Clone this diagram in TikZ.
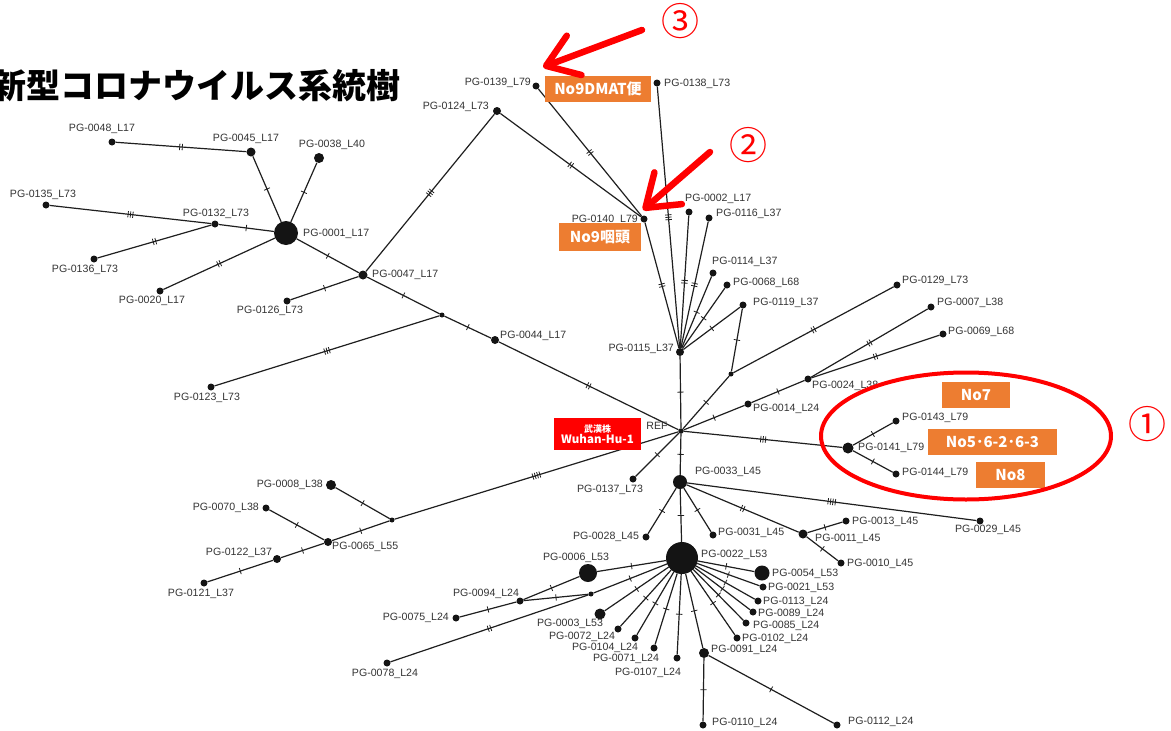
\documentclass[tikz,border=0pt]{standalone}
\usepackage{fontspec}
\setmainfont{Liberation Sans}
\newfontfamily\cjk{Noto Sans CJK JP}
\usetikzlibrary{decorations.markings,arrows.meta,shapes.geometric}
\definecolor{orng}{HTML}{ED7D31}
\definecolor{redbox}{HTML}{FF0000}
\tikzset{
  dot/.style={circle, fill=black!92, inner sep=0pt, minimum size=7pt},
  lbl/.style={inner sep=0pt, text=black!80, text height=7.8pt, text depth=0pt, font=\fontsize{10.6}{12}\selectfont},
  lnk/.style={draw=black!88, line width=1.2pt},
  tk/.style={line width=0.8pt, black!88},
  m1/.style={postaction={decorate,decoration={markings,mark=at position 0.5 with {\draw[tk] (0pt,-3.2pt)--(0pt,3.2pt);}}}},
  m2/.style={postaction={decorate,decoration={markings,mark=at position 0.5 with {\draw[tk] (-1.3pt,-3.2pt)--(-1.3pt,3.2pt) (1.3pt,-3.2pt)--(1.3pt,3.2pt);}}}},
  m3/.style={postaction={decorate,decoration={markings,mark=at position 0.5 with {\draw[tk] (-2.4pt,-3.2pt)--(-2.4pt,3.2pt) (0pt,-3.2pt)--(0pt,3.2pt) (2.4pt,-3.2pt)--(2.4pt,3.2pt);}}}},
  m4/.style={postaction={decorate,decoration={markings,mark=at position 0.5 with {\draw[tk] (-3.6pt,-3.2pt)--(-3.6pt,3.2pt) (-1.2pt,-3.2pt)--(-1.2pt,3.2pt) (1.2pt,-3.2pt)--(1.2pt,3.2pt) (3.6pt,-3.2pt)--(3.6pt,3.2pt);}}}},
  obox/.style={fill=orng, text=white, inner sep=0pt, font=\cjk\bfseries\fontsize{15}{15}\selectfont},
  rarrow/.style={draw=red, line width=6.5pt, line cap=round, -{Straight Barb[length=30pt,width=42pt,round]}},
  cnum/.style={text=red, inner sep=0pt, font=\cjk\fontsize{38}{38}\selectfont},
}
\begin{document}
\begin{tikzpicture}[x=1pt,y=-1pt]
\useasboundingbox (0,0) rectangle (1171,731);
% title
\node[anchor=east, inner sep=0pt, font=\cjk\bfseries\fontsize{34}{34}\selectfont] (title) at (401,86) {新型コロナウイルス系統樹};
% dots
\node[dot] (n0048) at (112,142) {};
\node[dot,minimum size=9pt] (n0045) at (251,152) {};
\node[dot,minimum size=10pt] (n0038) at (319,158) {};
\node[dot] (n0135) at (46,205) {};
\node[dot] (n0132) at (215,224) {};
\node[dot,minimum size=24pt] (n0001) at (286,233) {};
\node[dot] (n0136) at (94,259) {};
\node[dot] (n0020) at (160,291) {};
\node[dot] (n0126) at (287,301) {};
\node[dot,minimum size=9pt] (n0047) at (363,275) {};
\node[dot] (n0123) at (211,387) {};
\node[dot,minimum size=5pt] (iA) at (442,315) {};
\node[dot,minimum size=8pt] (n0044) at (495,340) {};
\node[dot,minimum size=8pt] (n0124) at (497,111) {};
\node[dot] (n0139) at (536,86) {};
\node[dot] (n0138) at (657,83) {};
\node[dot] (n0140) at (644,219) {};
\node[dot] (n0002) at (689,212) {};
\node[dot] (n0116) at (709,218) {};
\node[dot,minimum size=8pt] (n0115) at (680,352) {};
\node[dot] (n0114) at (713,273) {};
\node[dot] (n0068) at (727,285) {};
\node[dot] (n0119) at (743,305) {};
\node[dot,minimum size=5pt] (iB) at (731,374) {};
\node[dot] (n0129) at (897,285) {};
\node[dot] (n0007) at (931,307) {};
\node[dot] (n0069) at (943,334) {};
\node[dot] (n0024) at (808,379) {};
\node[dot] (n0014) at (748,404) {};
\node[dot,minimum size=5.5pt] (ref) at (681,431) {};
\node[dot,minimum size=11pt] (n0141) at (848,448) {};
\node[dot] (n0143) at (896,421) {};
\node[dot] (n0144) at (896,474) {};
\node[dot] (n0137) at (633,479) {};
\node[dot,minimum size=14pt] (n0033) at (680,482) {};
\node[dot,minimum size=5pt] (iC) at (392,520) {};
\node[dot,minimum size=10pt] (n0008) at (331,485) {};
\node[dot] (n0070) at (266,508) {};
\node[dot,minimum size=8pt] (n0065) at (328,542) {};
\node[dot,minimum size=8pt] (n0122) at (277,559) {};
\node[dot] (n0121) at (204,583) {};
\node[dot] (n0028) at (646,537) {};
\node[dot] (n0031) at (713,535) {};
\node[dot,minimum size=9pt] (n0011) at (803,534) {};
\node[dot] (n0013) at (846,521) {};
\node[dot] (n0010) at (841,563) {};
\node[dot] (n0029) at (980,521) {};
\node[dot,minimum size=32pt] (n0022) at (682,558) {};
\node[dot,minimum size=18pt] (n0006) at (588,573) {};
\node[dot,minimum size=15pt] (n0054) at (762,573) {};
\node[dot] (n0021) at (763,587) {};
\node[dot] (n0113) at (758,601) {};
\node[dot] (n0089) at (753,612) {};
\node[dot] (n0085) at (746,623) {};
\node[dot] (n0102) at (737,638) {};
\node[dot,minimum size=10pt] (n0091) at (704,653) {};
\node[dot] (n0107) at (677,658) {};
\node[dot] (n0071) at (654,648) {};
\node[dot] (n0104) at (635,638) {};
\node[dot] (n0072) at (618,629) {};
\node[dot,minimum size=11pt] (n0003) at (600,614) {};
\node[dot,minimum size=5pt] (iD) at (591,594) {};
\node[dot] (n0094) at (520,601) {};
\node[dot] (n0075) at (456,618) {};
\node[dot] (n0078) at (387,663) {};
\node[dot] (n0110) at (703,725) {};
\node[dot] (n0112) at (837,725) {};
% edges
\draw[lnk,m2] (n0048) -- (n0045);
\draw[lnk,m1] (n0045) -- (n0001);
\draw[lnk,m1] (n0038) -- (n0001);
\draw[lnk,m3] (n0135) -- (n0132);
\draw[lnk,m1] (n0132) -- (n0001);
\draw[lnk,m2] (n0132) -- (n0136);
\draw[lnk,m2] (n0001) -- (n0020);
\draw[lnk,m1] (n0001) -- (n0047);
\draw[lnk,m1] (n0047) -- (n0126);
\draw[lnk,m3] (n0047) -- (n0124);
\draw[lnk,m1] (n0047) -- (iA);
\draw[lnk,m3] (iA) -- (n0123);
\draw[lnk,m1] (iA) -- (n0044);
\draw[lnk,m2] (n0044) -- (ref);
\draw[lnk,m2] (n0124) -- (n0140);
\draw[lnk,m2] (n0139) -- (n0140);
\draw[lnk,m2] (n0140) -- (n0115);
\draw[lnk,m3] (n0138) -- (n0115);
\draw[lnk,m2] (n0002) -- (n0115);
\draw[lnk,m2] (n0116) -- (n0115);
\draw[lnk,m1] (n0114) -- (n0115);
\draw[lnk,m1] (n0068) -- (n0115);
\draw[lnk,m1] (n0119) -- (n0115);
\draw[lnk,m1] (n0115) -- (ref);
\draw[lnk,m1] (n0119) -- (iB);
\draw[lnk,m1] (iB) -- (ref);
\draw[lnk,m2] (iB) -- (n0129);
\draw[lnk,m1] (ref) -- (n0014);
\draw[lnk,m1] (n0014) -- (n0024);
\draw[lnk,m2] (n0024) -- (n0007);
\draw[lnk,m2] (n0024) -- (n0069);
\draw[lnk,m3] (ref) -- (n0141);
\draw[lnk,m1] (n0141) -- (n0143);
\draw[lnk,m1] (n0141) -- (n0144);
\draw[lnk,m1] (ref) -- (n0137);
\draw[lnk,m1] (ref) -- (n0033);
\draw[lnk,m4] (ref) -- (iC);
\draw[lnk,m1] (iC) -- (n0008);
\draw[lnk,m1] (iC) -- (n0065);
\draw[lnk,m1] (n0065) -- (n0070);
\draw[lnk,m1] (n0065) -- (n0122);
\draw[lnk,m1] (n0122) -- (n0121);
\draw[lnk,m1] (n0033) -- (n0028);
\draw[lnk,m1] (n0033) -- (n0031);
\draw[lnk,m2] (n0033) -- (n0011);
\draw[lnk,m4] (n0033) -- (n0029);
\draw[lnk,m1] (n0011) -- (n0013);
\draw[lnk,m1] (n0011) -- (n0010);
\draw[lnk,m1] (n0033) -- (n0022);
\draw[lnk,m1] (n0022) -- (n0006);
\draw[lnk,m1] (n0006) -- (n0094);
\draw[lnk,m1] (n0094) -- (n0075);
\draw[lnk,m1] (n0094) -- (iD);
\draw[lnk,m1] (iD) -- (n0022);
\draw[lnk,m2] (iD) -- (n0078);
\foreach \t in {0003,0072,0104,0071,0107,0091,0102,0085,0089,0113,0021,0054}
  \draw[lnk,m1] (n0022) -- (n\t);
\draw[lnk,m1] (n0091) -- (n0110);
\draw[lnk,m1] (n0091) -- (n0112);
% labels
\node[lbl] (l0048) at (102,128) {PG-0048\_L17};
\node[lbl] (l0045) at (246,138) {PG-0045\_L17};
\node[lbl] (l0038) at (332,144) {PG-0038\_L40};
\node[lbl] (l0135) at (43,194) {PG-0135\_L73};
\node[lbl] (l0132) at (216,213) {PG-0132\_L73};
\node[lbl,anchor=west] (l0001) at (303,233) {PG-0001\_L17};
\node[lbl] (l0136) at (85,269) {PG-0136\_L73};
\node[lbl] (l0020) at (152,300) {PG-0020\_L17};
\node[lbl] (l0126) at (270,310) {PG-0126\_L73};
\node[lbl,anchor=west] (l0047) at (372,274) {PG-0047\_L17};
\node[lbl] (l0123) at (207,397) {PG-0123\_L73};
\node[lbl,anchor=west] (l0044) at (500,335) {PG-0044\_L17};
\node[lbl,anchor=east] (l0124) at (489,106) {PG-0124\_L73};
\node[lbl,anchor=east] (l0139) at (531,82) {PG-0139\_L79};
\node[lbl,anchor=west] (l0138) at (664,83) {PG-0138\_L73};
\node[lbl,anchor=east] (l0140) at (638,219) {PG-0140\_L79};
\node[lbl,anchor=west] (l0002) at (685,198) {PG-0002\_L17};
\node[lbl,anchor=west] (l0116) at (716,213) {PG-0116\_L37};
\node[lbl,anchor=east] (l0115) at (674,348) {PG-0115\_L37};
\node[lbl,anchor=west] (l0114) at (712,261) {PG-0114\_L37};
\node[lbl,anchor=west] (l0068) at (733,282) {PG-0068\_L68};
\node[lbl,anchor=west] (l0119) at (753,302) {PG-0119\_L37};
\node[lbl,anchor=west] (l0129) at (902,280) {PG-0129\_L73};
\node[lbl,anchor=west] (l0007) at (937,302) {PG-0007\_L38};
\node[lbl,anchor=west] (l0069) at (948,331) {PG-0069\_L68};
\node[lbl,anchor=west] (l0024) at (812,385) {PG-0024\_L38};
\node[lbl,anchor=west] (l0014) at (753,408) {PG-0014\_L24};
\node[lbl] (lref) at (657,426) {REF};
\node[lbl,anchor=west] (l0141) at (858,447) {PG-0141\_L79};
\node[lbl,anchor=west] (l0143) at (902,417) {PG-0143\_L79};
\node[lbl,anchor=west] (l0144) at (902,472) {PG-0144\_L79};
\node[lbl] (l0137) at (610,489) {PG-0137\_L73};
\node[lbl] (l0033) at (728,471) {PG-0033\_L45};
\node[lbl,anchor=east] (l0008) at (323,484) {PG-0008\_L38};
\node[lbl,anchor=east] (l0070) at (259,507) {PG-0070\_L38};
\node[lbl,anchor=west] (l0065) at (332,546) {PG-0065\_L55};
\node[lbl] (l0122) at (239,552) {PG-0122\_L37};
\node[lbl] (l0121) at (201,593) {PG-0121\_L37};
\node[lbl] (l0028) at (606,536) {PG-0028\_L45};
\node[lbl,anchor=west] (l0031) at (718,532) {PG-0031\_L45};
\node[lbl,anchor=west] (l0011) at (815,538) {PG-0011\_L45};
\node[lbl,anchor=west] (l0013) at (852,521) {PG-0013\_L45};
\node[lbl,anchor=west] (l0010) at (847,563) {PG-0010\_L45};
\node[lbl] (l0029) at (988,529) {PG-0029\_L45};
\node[lbl,anchor=west] (l0022) at (701,554) {PG-0022\_L53};
\node[lbl] (l0006) at (576,557) {PG-0006\_L53};
\node[lbl,anchor=west] (l0054) at (772,573) {PG-0054\_L53};
\node[lbl,anchor=west] (l0021) at (768,587) {PG-0021\_L53};
\node[lbl,anchor=west] (l0113) at (763,601) {PG-0113\_L24};
\node[lbl,anchor=west] (l0089) at (758,613) {PG-0089\_L24};
\node[lbl,anchor=west] (l0085) at (753,625) {PG-0085\_L24};
\node[lbl,anchor=west] (l0102) at (742,638) {PG-0102\_L24};
\node[lbl,anchor=west] (l0091) at (711,649) {PG-0091\_L24};
\node[lbl] (l0107) at (648,672) {PG-0107\_L24};
\node[lbl] (l0071) at (626,658) {PG-0071\_L24};
\node[lbl] (l0104) at (605,647) {PG-0104\_L24};
\node[lbl] (l0072) at (582,636) {PG-0072\_L24};
\node[lbl] (l0003) at (570,623) {PG-0003\_L53};
\node[lbl] (l0094) at (486,593) {PG-0094\_L24};
\node[lbl,anchor=east] (l0075) at (449,617) {PG-0075\_L24};
\node[lbl] (l0078) at (385,673) {PG-0078\_L24};
\node[lbl,anchor=west] (l0110) at (712,722) {PG-0110\_L24};
\node[lbl,anchor=west] (l0112) at (848,721) {PG-0112\_L24};
% boxes
\node[obox, minimum width=106pt, minimum height=26pt] (b9d) at (598,89) {No9DMAT便};
\node[obox, minimum width=82pt, minimum height=28pt] (b9p) at (600,237) {No9咽頭};
\node[obox, minimum width=68pt, minimum height=26pt] (b7) at (976,395) {No7};
\node[obox, minimum width=129pt, minimum height=26pt] (b56) at (992.5,442) {No5･6-2･6-3};
\node[obox, minimum width=69pt, minimum height=26pt] (b8) at (1010.5,475) {No8};
\node[fill=redbox, text=white, inner sep=0pt, minimum width=87pt, minimum height=32pt, align=center, font=\cjk\bfseries] (wuhan) at (597.5,434)
  {{\fontsize{9}{10}\selectfont 武漢株}\\[-1pt]{\fontsize{11.5}{12}\selectfont Wuhan-Hu-1}};
% annotations
\node[ellipse, draw=red, line width=4pt, minimum width=290pt, minimum height=127pt, inner sep=0pt] (ring) at (966,436) {};
\node[cnum] (c1) at (1147,424) {①};
\node[cnum] (c2) at (748,145) {②};
\node[cnum] (c3) at (680,21) {③};
\coordinate (a3s) at (642,30);
\coordinate (a3e) at (543,67);
\coordinate (a2s) at (710,152);
\coordinate (a2e) at (643,210);
\draw[rarrow] (a3s) -- (a3e);
\draw[rarrow] (a2s) -- (a2e);
\end{tikzpicture}
\end{document}
